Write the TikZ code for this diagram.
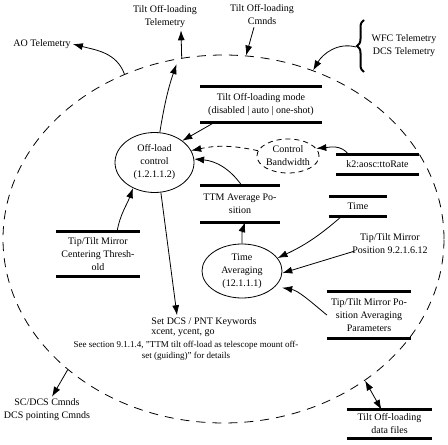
\documentclass[tikz,border=0pt]{standalone}
\usepackage{fontspec}
\setmainfont{Liberation Serif}
\usetikzlibrary{shapes.geometric,arrows.meta,decorations.pathreplacing}

\begin{document}
\begin{tikzpicture}[x=1pt,y=1pt,
  font=\fontsize{10}{13}\selectfont,
  proc/.style={ellipse,draw,line width=0.8pt,inner sep=0pt,align=center},
  store/.style={inner sep=0pt,align=center},
  bar/.style={line width=2.8pt},
  flow/.style={line width=0.8pt,-{Latex[length=10pt,width=7pt]}},
  both/.style={flow,{Latex[length=10pt,width=7pt]}-{Latex[length=10pt,width=7pt]}},
  lbl/.style={align=center,inner sep=2pt}]
  \useasboundingbox (0,0) rectangle (448,445);

  % system boundary
  \node[ellipse,draw,line width=0.8pt,dash pattern=on 9pt off 7pt,minimum width=441pt,minimum height=368pt] (sys) at (223.5,206) {};

  % outside
  \node[lbl] (tmTel) at (165,428) {Tilt Off-loading\\Telemetry};
  \node[lbl] (tmCmd) at (262,430) {Tilt Off-loading\\Cmnds};
  \node[lbl] (aoTel) at (42,401) {AO Telemetry};
  \node[lbl] (wfc) at (404,399) {WFC Telemetry\\DCS Telemetry};
  \node[lbl] (scCmd) at (47,35) {SC/DCS Cmnds\\DCS pointing Cmnds};
  \draw[decorate,decoration={brace,amplitude=7pt},line width=2pt] (364,373) -- (364,425);
  \coordinate (wfcBr) at (356,398);

  % processes
  \node[proc,minimum width=79pt,minimum height=60pt] (offload) at (154.5,282.5) {Off-load\\control\\(1.2.1.1.2)};
  \node[proc,dash pattern=on 5pt off 4pt,minimum width=62pt,minimum height=34pt] (bw) at (288,289) {Control\\Bandwidth};
  \node[proc,minimum width=80pt,minimum height=54pt] (avg) at (242,174) {Time\\Averaging\\(12.1.1.1)};

  % stores
  \node[store,minimum width=122pt,minimum height=35pt] (mode) at (261,340.5) {Tilt Off-loading mode\\(disabled | auto | one-shot)};
  \node[store,minimum width=83pt,minimum height=19pt] (rate) at (377.5,280.5) {k2:aosc:ttoRate};
  \node[store,minimum width=80pt,minimum height=36pt] (ttm) at (240,241) {TTM Average Po-\\sition};
  \node[store,minimum width=58pt,minimum height=19pt] (time) at (358,238.5) {Time};
  \node[store,minimum width=84pt,minimum height=46pt] (params) at (369,130) {Tip/Tilt Mirror Po-\\sition Averaging\\Parameters};
  \node[store,minimum width=84pt,minimum height=44pt] (thresh) at (98,191) {Tip/Tilt Mirror\\Centering Thresh-\\old};
  \node[store,minimum width=85pt,minimum height=28pt] (files) at (389.5,21) {Tilt Off-loading\\data files};
  \foreach \s in {mode,rate,ttm,time,params,thresh,files}
    \draw[bar] (\s.north west) -- (\s.north east) (\s.south west) -- (\s.south east);

  \node[lbl] (ttPos) at (390,201) {Tip/Tilt Mirror\\Position 9.2.1.6.12};
  \node[lbl] (dcs) at (204,123) {Set DCS / PNT Keywords};
  \node[lbl] (dcsArgs) at (183,112) {xcent, ycent, go};
  \node[lbl,font=\fontsize{9}{11}\selectfont] (dcsNote) at (186,94.5) {See section 9.1.1.4, "TTM tilt off-load as telescope mount off-\\set (guiding)" for details};

  % flows
  \draw[flow,shorten >=6pt] (offload.80) to[bend left=5] (sys.104);
  \draw[flow] (sys.103) -- ([xshift=16pt]tmTel.south);
  \draw[flow] ([xshift=-8pt]tmCmd.south) -- (sys.83);
  \draw[flow] (sys.121) to[out=110,in=-15] (aoTel.east);
  \draw[flow] (wfcBr) to[out=165,in=60] (sys.62);
  \draw[flow] ([xshift=15pt]mode.south west) -- (offload.38);
  \draw[flow,dash pattern=on 5pt off 4pt] (bw.170) to[bend right=12] (offload.18);
  \draw[flow] ([xshift=13pt]rate.north west) to[out=125,in=5] (bw.15);
  \draw[flow] ([xshift=2pt]ttm.north) to[out=125,in=-5] (offload.5);
  \draw[flow] (avg.north) to[bend left=10] ([xshift=5pt]ttm.south);
  \draw[flow] ([xshift=13pt]time.south west) to[bend left=8] (avg.20);
  \draw[flow] ([shift={(4pt,5pt)}]ttPos.south west) -- (avg.-3);
  \draw[flow,shorten >=7pt] (params.west) to[out=140,in=-10] (avg.-25);
  \draw[flow] ([xshift=19pt]thresh.north) to[out=80,in=-110] (offload.230);
  \draw[flow] (offload.282) -- ([xshift=-27pt]dcs.north);
  \draw[flow] (sys.220) -- ([xshift=5pt]scCmd.north);
  \draw[both] (sys.315) -- ([xshift=-8pt]files.north);
\end{tikzpicture}
\end{document}
